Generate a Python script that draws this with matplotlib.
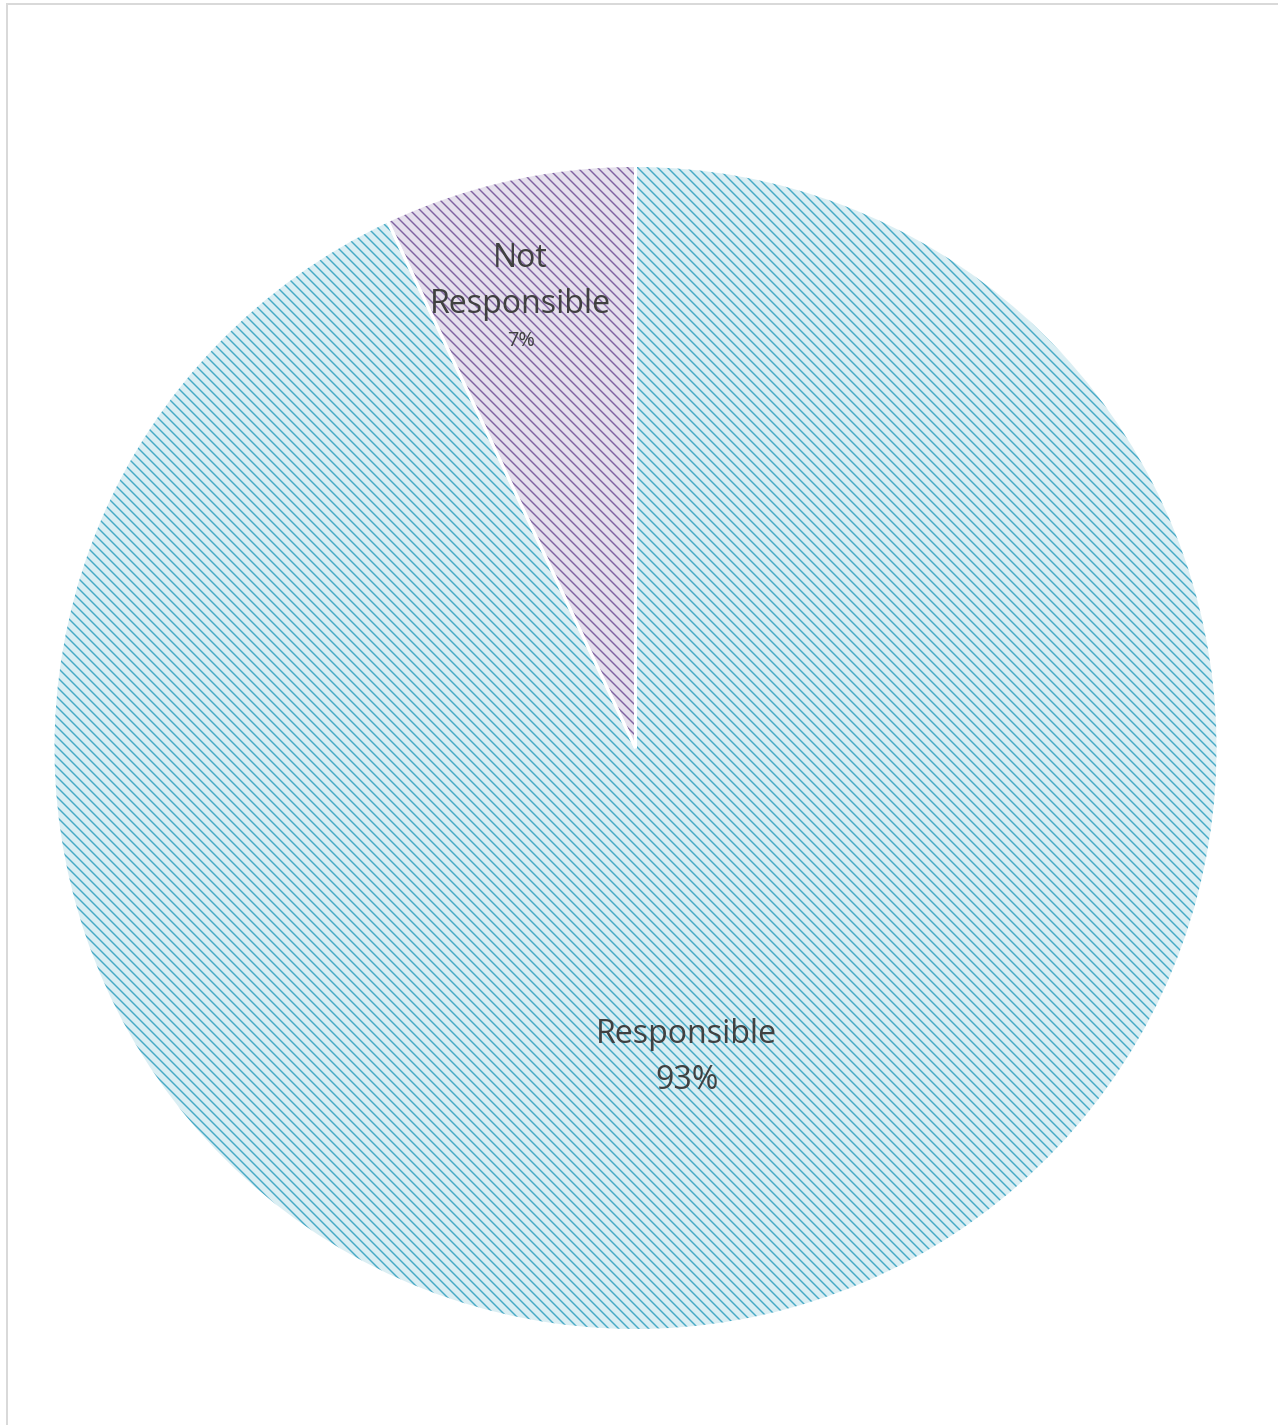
import matplotlib
matplotlib.use("Agg")
import matplotlib.pyplot as plt
from matplotlib.patches import Rectangle

# Data
categories = ["Responsible", "Not Responsible"]
values = [93, 7]
label_texts = ["Responsible", "Not\nResponsible"]
pct_texts = ["93%", "7%"]

face_colors = ["#DAEEF3", "#E5DFEC"]
hatch_colors = ["#46AAC6", "#7F63A1"]
text_color = "#404040"

W, H, DPI = 1278, 1425, 90
plt.rcParams["font.family"] = ["Open Sans", "DejaVu Sans"]
plt.rcParams["hatch.linewidth"] = 1.15

fig = plt.figure(figsize=(W / DPI, H / DPI), dpi=DPI)
fig.patch.set_facecolor("white")

cx, cy, r = 635.5, 748.0, 582.5
ax = fig.add_axes([(cx - r) / W, (H - cy - r) / H, 2 * r / W, 2 * r / H])

# base hatched fill
wedges, _ = ax.pie(values, startangle=90, counterclock=False, radius=1,
                   colors=face_colors,
                   wedgeprops=dict(linewidth=0))
for w, hc in zip(wedges, hatch_colors):
    w.set_edgecolor(hc)
    w.set_linewidth(0)
    w.set_hatch("\\\\\\")

# white separators on top
ax.pie(values, startangle=90, counterclock=False, radius=1,
       colors=["none", "none"],
       wedgeprops=dict(linewidth=2.4, edgecolor="white", fill=False))

ax.set_xlim(-1, 1)
ax.set_ylim(-1, 1)
ax.set_aspect("equal")
ax.axis("off")

# labels (Excel best-fit positions)
ax.text(-0.197, 0.801, label_texts[1], ha="center", va="center",
        fontsize=25.7, color=text_color, linespacing=1.55)
ax.text(-0.197, 0.699, pct_texts[1], ha="center", va="center",
        fontsize=16, color=text_color)
ax.text(0.088, -0.492, label_texts[0], ha="center", va="center",
        fontsize=25.7, color=text_color)
ax.text(0.088, -0.571, pct_texts[0], ha="center", va="center",
        fontsize=25.7, color=text_color)

# chart area border (left and top visible)
fig.add_artist(Rectangle((6.5 / W, -0.1), 1.2, (H - 4) / H + 0.1,
                         transform=fig.transFigure, fill=False,
                         edgecolor="#D9D9D9", linewidth=1.6))

fig.savefig("out.png", dpi=DPI, facecolor="white")
